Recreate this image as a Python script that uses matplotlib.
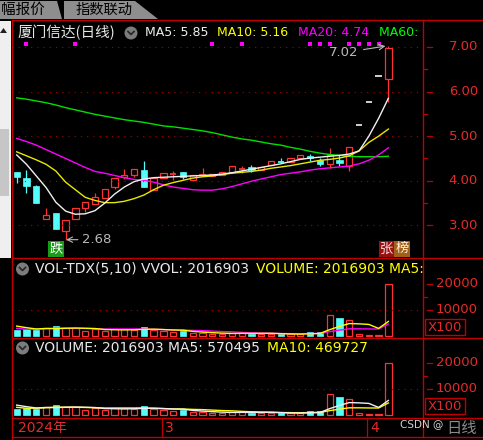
import numpy as np
import matplotlib
matplotlib.use("Agg")
import matplotlib.pyplot as plt
from matplotlib.patches import Rectangle, Polygon, Circle

W, H = 483, 440
CJK = ['Noto Sans CJK SC', 'DejaVu Sans']
LAT = ['DejaVu Sans', 'Noto Sans CJK SC']

stock_title = "厦门信达(日线)"
tabs = ["幅报价", "指数联动"]

# daily bars 2024-02-01 .. 2024-04-03
opens = [4.19, 4.07, 3.89, 3.14, 3.27, 2.87, 3.14, 3.40, 3.47, 3.61,
         3.85, 4.09, 4.13, 4.24, 3.79, 4.06, 4.14, 4.20, 4.02, 4.11,
         4.10, 4.13, 4.19, 4.24, 4.30, 4.24, 4.35, 4.43, 4.42, 4.51,
         4.56, 4.47, 4.38, 4.47, 4.33, 5.24, 5.76, 6.34, 6.28]
highs = [4.19, 4.24, 3.90, 3.38, 3.27, 3.12, 3.38, 3.52, 3.73, 3.82,
         4.07, 4.26, 4.26, 4.44, 4.08, 4.17, 4.22, 4.20, 4.13, 4.28,
         4.16, 4.20, 4.33, 4.33, 4.35, 4.31, 4.44, 4.50, 4.52, 4.58,
         4.59, 4.50, 4.73, 4.58, 4.76, 5.24, 5.76, 6.34, 7.02]
lows = [3.96, 3.73, 3.50, 3.14, 2.91, 2.68, 3.14, 3.31, 3.47, 3.61,
        3.81, 4.04, 4.09, 3.87, 3.79, 4.06, 4.02, 4.03, 4.02, 4.10,
        4.10, 4.13, 4.17, 4.18, 4.20, 4.24, 4.35, 4.41, 4.42, 4.51,
        4.45, 4.33, 4.28, 4.33, 4.23, 5.24, 5.76, 6.34, 5.77]
closes = [4.09, 3.89, 3.51, 3.23, 2.91, 3.12, 3.38, 3.52, 3.63, 3.82,
          4.07, 4.13, 4.26, 3.87, 4.06, 4.17, 4.15, 4.08, 4.13, 4.13,
          4.16, 4.20, 4.33, 4.27, 4.24, 4.31, 4.44, 4.41, 4.52, 4.58,
          4.51, 4.38, 4.58, 4.41, 4.76, 5.24, 5.76, 6.34, 6.97]

# moving averages as drawn on the chart
ma5 = [4.58, 4.37, 4.11, 3.85, 3.52, 3.32, 3.25, 3.26, 3.33, 3.50,
       3.70, 3.86, 3.98, 4.04, 4.07, 4.08, 4.09, 4.10, 4.11, 4.12,
       4.13, 4.15, 4.18, 4.22, 4.26, 4.30, 4.34, 4.38, 4.43, 4.48,
       4.51, 4.53, 4.55, 4.57, 4.60, 4.67, 5.00, 5.40, 5.85]
ma10 = [4.65, 4.56, 4.47, 4.37, 4.22, 3.97, 3.80, 3.63, 3.56, 3.51,
        3.51, 3.54, 3.60, 3.68, 3.80, 3.90, 3.96, 4.01, 4.06, 4.09,
        4.11, 4.14, 4.17, 4.19, 4.21, 4.24, 4.28, 4.31, 4.34, 4.38,
        4.42, 4.46, 4.48, 4.51, 4.56, 4.67, 4.86, 5.00, 5.16]
ma20 = [4.95, 4.88, 4.80, 4.70, 4.60, 4.50, 4.40, 4.30, 4.21, 4.17,
        4.12, 4.07, 4.03, 4.01, 3.97, 3.91, 3.86, 3.83, 3.80, 3.79,
        3.79, 3.82, 3.87, 3.93, 3.99, 4.04, 4.09, 4.14, 4.17, 4.20,
        4.24, 4.27, 4.29, 4.31, 4.33, 4.38, 4.46, 4.58, 4.74]
ma60 = [5.86, 5.83, 5.79, 5.75, 5.70, 5.64, 5.59, 5.54, 5.49, 5.45,
        5.41, 5.37, 5.34, 5.31, 5.27, 5.23, 5.21, 5.18, 5.15, 5.12,
        5.08, 5.03, 4.98, 4.94, 4.91, 4.87, 4.83, 4.80, 4.75, 4.71,
        4.66, 4.62, 4.59, 4.57, 4.55, 4.54, 4.54, 4.54, 4.55]

# volume in hundreds of shares
volume = [2300, 2580, 2300, 3190, 3850, 2960, 2960, 1920, 2690, 1920,
          2580, 2580, 2310, 3350, 2310, 1920, 1650, 1920, 1040, 1040,
          770, 770, 1270, 1270, 880, 880, 880, 650, 650, 650,
          1420, 1420, 8080, 6810, 6150, 880, 380, 380, 20169]
vol_ma5_head = [3800, 3200, 2700, 2900]
vol_ma10_head = [2950, 2600, 2600, 2800, 3000, 3000, 3000, 2900, 2800]
vol_last, vol_ma5_last, vol_ma10_last = 2016903, 570495, 469727

price_ticks = [3, 4, 5, 6, 7]
price_minor = [3.5, 4.5, 5.5, 6.5]
vol_ticks = [10000, 20000]
vol_minor = [15000]
mark_idx = [1, 6, 20, 23, 30, 31, 32, 34, 35, 36, 37]
month_start = [0, 15, 36]
month_labels = ["2024年", "3", "4"]

RED = '#ff3232'
CYAN = '#54fcfc'
LINE = '#c00000'
AXTXT = '#e42a2a'
GRID = '#a80000'
GRAYTXT = '#b8b8b8'

n = len(closes)
vol = np.array(volume, float)
vma5 = list(vol_ma5_head) + [vol[i - 4:i + 1].mean() for i in range(4, n)]
vma10 = list(vol_ma10_head) + [vol[i - 9:i + 1].mean() for i in range(9, n)]

fig = plt.figure(figsize=(W / 100, H / 100), dpi=100)
fig.patch.set_facecolor('black')


def px_axes(x0, y0, x1, y1):
    a = fig.add_axes([x0 / W, 1 - y1 / H, (x1 - x0) / W, (y1 - y0) / H])
    a.set_axis_off()
    a.px = (x0, y0, x1, y1)
    return a


def ptext(a, x, y, s, **kw):
    x0, y0, x1, y1 = a.px
    return a.text((x - x0) / (x1 - x0), (y1 - y) / (y1 - y0), s,
                  transform=a.transAxes, va='center', **kw)


def xf(a, x):
    x0, y0, x1, y1 = a.px
    return (x - x0) / (x1 - x0)


xlim = (-0.48, 41.54)
ax = px_axes(12, 20, 423, 258)
ax.set_xlim(xlim)
ax.set_ylim(2.269, 7.605)
v1 = px_axes(12, 258, 423, 338)
v1.set_xlim(xlim)
v1.set_ylim(-770, 30000)
v2 = px_axes(12, 338, 423, 418)
v2.set_xlim(xlim)
v2.set_ylim(-1154, 29615)
dax = px_axes(12, 418, 423, 437)
dax.set_xlim(xlim)
dax.set_ylim(0, 1)

dots = (0, (1, 4.6))
for v in price_ticks:
    ax.axhline(v, color=GRID, lw=0.8, ls=dots)
for a in (v1, v2):
    a.axhline(10000, color=GRID, lw=0.8, ls=dots)

# candles
w = 0.64
x = np.arange(n)
for i, (o, h, l, c) in enumerate(zip(opens, highs, lows, closes)):
    if h == l:
        ax.hlines(c, i - w / 2, i + w / 2, color='#e0e0e0', lw=1.3)
        continue
    up = c >= o
    col = RED if up else CYAN
    top, bot = max(o, c), min(o, c)
    if top - bot < 0.03:
        ax.vlines(i, l, h, color=col, lw=0.9)
        ax.hlines((o + c) / 2, i - w / 2, i + w / 2, color=col, lw=1.3)
    elif up:
        ax.vlines(i, top, h, color=col, lw=0.9)
        ax.vlines(i, l, bot, color=col, lw=0.9)
        ax.add_patch(Rectangle((i - w / 2, bot), w, top - bot, fill=False,
                               ec=col, lw=0.9))
    else:
        ax.vlines(i, l, h, color=col, lw=0.9)
        ax.add_patch(Rectangle((i - w / 2, bot), w, top - bot, fc=col,
                               ec=col, lw=0.5))

ax.plot(x, ma60, color='#00e000', lw=1.0)
ax.plot(x, ma20, color='#ff00ff', lw=1.0)
ax.plot(x, ma10, color='#e8e800', lw=1.0)
ax.plot(x, ma5, color='#f0f0f0', lw=1.0)

ax.plot(mark_idx, [0.9] * len(mark_idx), transform=ax.get_xaxis_transform(),
        ls='none', marker='s', ms=2.3, mew=0, color='#ff00ff')

hi = int(np.argmax(highs))
lo = int(np.argmin(lows))
ax.annotate(f"{highs[hi]:.2f}", xy=(hi - 0.3, highs[hi]), xytext=(hi - 3.1, 6.87),
            ha='right', va='center', color=GRAYTXT, fontsize=9.5, family=LAT,
            arrowprops=dict(arrowstyle='->', color=GRAYTXT, lw=0.8,
                            shrinkA=2, shrinkB=0))
ax.annotate(f"{lows[lo]:.2f}", xy=(lo + 0.05, lows[lo]), xytext=(lo + 1.68, lows[lo]),
            ha='left', va='center', color=GRAYTXT, fontsize=9.5, family=LAT,
            arrowprops=dict(arrowstyle='->', color=GRAYTXT, lw=0.8,
                            shrinkA=1, shrinkB=0))

xt = ax.get_xaxis_transform()
ax.add_patch(Rectangle((4 - 0.8, 0.004), 1.6, 0.067, transform=xt,
                       fc='#169c16', ec='none'))
ax.text(4, 0.038, "跌", transform=xt, ha='center', va='center',
        color='white', fontsize=9.5, family=CJK)
ax.add_patch(Rectangle((37.05, 0.004), 1.55, 0.067, transform=xt,
                       fc='#9a1010', ec='none'))
ax.add_patch(Rectangle((38.6, 0.004), 1.6, 0.067, transform=xt,
                       fc='#a0601a', ec='none'))
ax.text(37.82, 0.038, "张", transform=xt, ha='center', va='center',
        color='#f4dede', fontsize=9.5, family=CJK)
ax.text(39.4, 0.038, "榜", transform=xt, ha='center', va='center',
        color='#fff0d8', fontsize=9.5, family=CJK)

# title row of price panel
ptext(ax, 17, 32, stock_title, color='#e8e8e8', fontsize=10.5, family=CJK,
      clip_on=True)
ptext(ax, 145, 32, f"MA5: {ma5[-1]:.2f}", color='#f0f0f0', fontsize=9, family=LAT, clip_on=True)
ptext(ax, 217, 32, f"MA10: {ma10[-1]:.2f}", color='#ffff00', fontsize=9, family=LAT, clip_on=True)
ptext(ax, 298, 32, f"MA20: {ma20[-1]:.2f}", color='#ff00ff', fontsize=9, family=LAT, clip_on=True)
ptext(ax, 379, 32, f"MA60: {ma60[-1]:.2f}", color='#00ff00', fontsize=9, family=LAT, clip_on=True)

# price axis labels
yt = ax.get_yaxis_transform()
for v in price_ticks:
    ax.text(xf(ax, 478), v, f"{v:.2f}", transform=yt, ha='right', va='center',
            color=AXTXT, fontsize=9.5, family=LAT, clip_on=False)
    ax.plot([xf(ax, 427), xf(ax, 432)], [v, v], transform=yt, color=LINE,
            lw=0.9, clip_on=False)
for v in price_minor:
    ax.plot([xf(ax, 423), xf(ax, 427)], [v, v], transform=yt, color=LINE,
            lw=0.9, clip_on=False)

# volume panels
for a, c5, c10 in ((v1, '#ffff00', '#ff00ff'), (v2, '#f0f0f0', '#ffff00')):
    for i, v in enumerate(volume):
        if closes[i] >= opens[i]:
            a.add_patch(Rectangle((i - w / 2, 0), w, v, fill=False, ec=RED, lw=0.9))
        else:
            a.add_patch(Rectangle((i - w / 2, 0), w, v, fc=CYAN, ec=CYAN, lw=0.5))
    a.plot(x, vma10, color=c10, lw=1.0)
    a.plot(x, vma5, color=c5, lw=1.0)
    yt = a.get_yaxis_transform()
    for v in vol_ticks:
        a.text(xf(a, 478), v, f"{v}", transform=yt, ha='right', va='center',
               color=AXTXT, fontsize=9.5, family=LAT, clip_on=False)
        a.plot([xf(a, 427), xf(a, 432)], [v, v], transform=yt, color=LINE,
               lw=0.9, clip_on=False)
    for v in vol_minor:
        a.plot([xf(a, 423), xf(a, 427)], [v, v], transform=yt, color=LINE,
               lw=0.9, clip_on=False)

ptext(v1, 35, 269, f"VOL-TDX(5,10) VVOL: {vol_last}", color='#e8e8e8',
      fontsize=10, family=LAT, clip_on=True)
ptext(v1, 256, 269, f"VOLUME: {vol_last} MA5: {vol_ma5_last}", color='#ffff00',
      fontsize=10, family=LAT, clip_on=True)
ptext(v2, 35, 348, f"VOLUME: {vol_last} MA5: {vol_ma5_last}", color='#e8e8e8',
      fontsize=10, family=LAT, clip_on=True)
ptext(v2, 267, 348, f"MA10: {vol_ma10_last}", color='#ffff00',
      fontsize=10, family=LAT, clip_on=True)

# date axis
for k, (s, lab) in enumerate(zip(month_start, month_labels)):
    b = s - 0.15
    if k > 0:
        dax.vlines(b, 0, 1, color=LINE, lw=0.9)
    dax.text(b + 0.32, 0.5, lab, ha='left', va='center', color=AXTXT,
             fontsize=10, family=LAT)

# frame, tabs, side strip
ov = fig.add_axes([0, 0, 1, 1], zorder=10)
ov.set_xlim(0, W)
ov.set_ylim(H, 0)
ov.set_axis_off()
ov.patch.set_alpha(0)

ov.add_patch(Polygon([(0, 1), (57, 1), (62, 19), (0, 19)], closed=True,
                     fc='#8e8e8e', ec='none'))
ov.add_patch(Polygon([(64, 1), (135, 1), (158, 19), (64, 19)], closed=True,
                     fc='#8e8e8e', ec='none'))
ov.text(1, 9.5, tabs[0], ha='left', va='center', color='black',
        fontsize=10.5, family=CJK)
ov.text(76, 9.5, tabs[1], ha='left', va='center', color='black',
        fontsize=10.3, family=CJK)

ov.add_patch(Rectangle((0, 21), 11, 237, fc='#efefef', ec='none'))
ov.add_patch(Rectangle((0, 129), 8.5, 67, fc='#c6c6c6', ec='none'))
ov.add_patch(Polygon([(0, 33), (3.5, 28), (7, 33)], closed=True, fc='#202020', ec='none'))

for yy in (20, 258, 338, 418, 437):
    ov.plot([12, W], [yy, yy], color=LINE, lw=1.0)
ov.plot([12, 12], [20, H], color=LINE, lw=1.0)
ov.plot([423, 423], [20, 437], color=LINE, lw=1.0)

for yy0 in (319, 398):
    ov.add_patch(Rectangle((425, yy0), 40, 16.5, fill=False, ec=LINE, lw=1.0))
    ov.text(445, yy0 + 8.5, "X100", ha='center', va='center', color=AXTXT,
            fontsize=9.5, family=LAT)

for cx, cy in ((131, 33), (22.5, 269), (22.5, 348)):
    ov.add_patch(Circle((cx, cy), 6.5, fc='#7c7c7c', ec='none'))
    ov.plot([cx - 3, cx, cx + 3], [cy - 1.5, cy + 1.5, cy - 1.5], color='#262626', lw=1.2)

ov.text(446, 428, "日线", ha='left', va='center', color='#8a8a8a', fontsize=11, family=CJK)
ov.text(400, 424, "CSDN @", ha='left', va='center', color='#d0d0d0', fontsize=7.5, family=LAT)

fig.savefig("out.png", dpi=100, facecolor=fig.get_facecolor())
